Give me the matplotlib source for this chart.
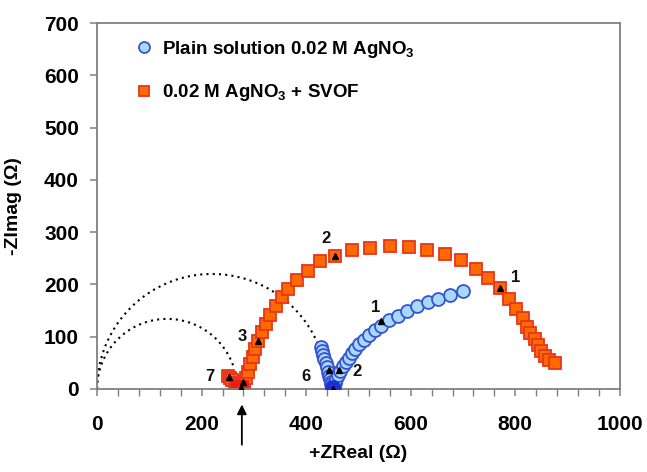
import numpy as np
import matplotlib
matplotlib.use("Agg")
import matplotlib.pyplot as plt
from matplotlib.ticker import MultipleLocator

plt.rcParams["font.family"] = ["Liberation Sans", "DejaVu Sans"]
plt.rcParams["mathtext.fontset"] = "custom"
plt.rcParams["mathtext.rm"] = "Liberation Sans:bold"
plt.rcParams["mathtext.bf"] = "Liberation Sans:bold"

# --- dados ---
# solução simples 0.02 M AgNO3 (círculos azuis), da alta para a baixa frequência
plain_zreal = [428, 430, 432, 434, 437, 440, 442, 444, 446, 447, 448, 449, 450, 450,
               451, 451, 452, 452, 453, 453, 454, 455, 458, 461, 465, 470, 476, 481,
               487, 494, 502, 511, 521, 532, 544, 559, 576, 593, 612, 633, 653,
               676, 700]
plain_zimag = [81, 73, 65, 57, 49, 42, 33, 25, 19, 14, 9, 6, 3, 1,
               0, 2, 1, 4, 3, 6, 8, 12, 19, 27, 35, 43, 51, 60,
               68, 77, 86, 94, 103, 112, 121, 131, 140, 150, 159, 167, 173,
               179, 188]
# pontos sobrepostos no vértice (aparecem escuros)
plain_cusp_zreal = [449, 451, 452]
plain_cusp_zimag = [2, 0, 4]

# 0.02 M AgNO3 + SVOF (quadrados laranja)
svof_zreal = [251, 255, 259, 263, 265, 267, 269, 270, 272, 273, 275, 276, 277, 278,
              279, 280, 281, 282, 284, 288, 292, 298, 303, 308, 315, 323, 331,
              342, 353, 366, 383, 404, 426, 455, 488, 523, 560, 597, 632, 665,
              696, 725, 748, 771, 788, 802, 815, 823, 829, 837, 844, 850, 857,
              865, 876]
svof_zimag = [25, 21, 17, 12, 9, 6, 4, 2, 1, 0, 0, 1, 3, 2,
              5, 8, 11, 14, 20, 33, 47, 62, 77, 91, 108, 124, 142,
              159, 176, 191, 209, 226, 244, 255, 266, 270, 274, 271, 266, 258,
              246, 229, 212, 193, 172, 153, 135, 119, 107, 96, 84, 73, 63,
              55, 49]
svof_cusp_zreal = [270, 274, 278]
svof_cusp_zimag = [3, 0, 4]

# marcadores de década de frequência (log f)
tri_zreal = [253, 275, 280, 308, 455, 771, 444, 451, 463, 544]
tri_zimag = [22, 1, 14, 91, 255, 193, 36, 0, 36, 130]
dec_labels = ["7", "3", "2", "1", "1", "2", "6"]
dec_zreal = [216, 277, 438, 801, 533, 497, 400]
dec_zimag = [23, 100, 288, 214, 156, 33, 23]

# semicírculos ajustados (centro no eixo real, raio)
arc_centers = [134, 220]
arc_radii = [134, 220]
arc_end_zreal = [262, 432]

arrow_zreal = 277

fig = plt.figure(figsize=(6.47, 4.72), dpi=100)
ax = fig.add_axes([0.150, 0.176, 0.808, 0.775])

# semicírculos pontilhados
for c, r, xe in zip(arc_centers, arc_radii, arc_end_zreal):
    th = np.linspace(np.pi, np.arccos((xe - c) / r), 200)
    ax.plot(c + r * np.cos(th), r * np.sin(th), color="black",
            linestyle=(0, (1, 2)), lw=1.5, zorder=1)

ax.plot(plain_zreal, plain_zimag, linestyle="none", marker="o", ms=9.3,
        mfc="#a9d9f7", mec="#3553d6", mew=1.3, zorder=3,
        label=r"Plain solution 0.02 M AgNO$_3$")
ax.plot(plain_cusp_zreal, plain_cusp_zimag, linestyle="none", marker="o", ms=9.3,
        mfc="#1f2fd0", mec="#1f2fd0", mew=1.3, zorder=3)
ax.plot(svof_zreal, svof_zimag, linestyle="none", marker="s", ms=8.8,
        mfc="#ff6a00", mec="#e8341a", mew=1.3, zorder=2,
        label=r"0.02 M AgNO$_3$ + SVOF")
ax.plot(svof_cusp_zreal, svof_cusp_zimag, linestyle="none", marker="s", ms=8.8,
        mfc="#ee1c10", mec="#ee1c10", mew=1.3, zorder=2)
ax.plot(tri_zreal, tri_zimag, linestyle="none", marker="^", ms=5,
        color="black", zorder=4)

for t, x, y in zip(dec_labels, dec_zreal, dec_zimag):
    ax.text(x, y, t, ha="center", va="center", fontsize=12,
            fontweight="bold", color="#111111", zorder=5)

ax.annotate("", xy=(arrow_zreal, -0.035), xytext=(arrow_zreal, -0.16),
            xycoords=("data", "axes fraction"),
            textcoords=("data", "axes fraction"),
            arrowprops=dict(arrowstyle="-|>", color="black", lw=1.3,
                            mutation_scale=14),
            annotation_clip=False)

ax.set_xlim(0, 1000)
ax.set_ylim(0, 700)
ax.xaxis.set_major_locator(MultipleLocator(200))
ax.xaxis.set_minor_locator(MultipleLocator(40))
ax.yaxis.set_major_locator(MultipleLocator(100))

for s in ax.spines.values():
    s.set_color("#808080")
    s.set_linewidth(1.3)

ax.tick_params(axis="x", which="major", length=5, width=1.1, color="#808080",
               pad=14, labelsize=15)
ax.tick_params(axis="x", which="minor", length=5, width=1.0, color="#808080")
ax.tick_params(axis="y", which="major", length=5, width=1.1, color="#808080",
               pad=8, labelsize=15)
for lbl in ax.get_xticklabels() + ax.get_yticklabels():
    lbl.set_fontweight("bold")

ax.set_xlabel("+ZReal (Ω)", fontsize=14, fontweight="bold", labelpad=8)
ax.set_ylabel("-ZImag (Ω)", fontsize=14, fontweight="bold", labelpad=16)

leg = ax.legend(loc="upper left", bbox_to_anchor=(0.06, 0.978), frameon=False,
                prop={"size": 13.5, "weight": "bold"}, labelspacing=1.2,
                handletextpad=0.5, handlelength=0.9, borderaxespad=0,
                markerscale=0.85)

fig.savefig("out.png", dpi=100)
